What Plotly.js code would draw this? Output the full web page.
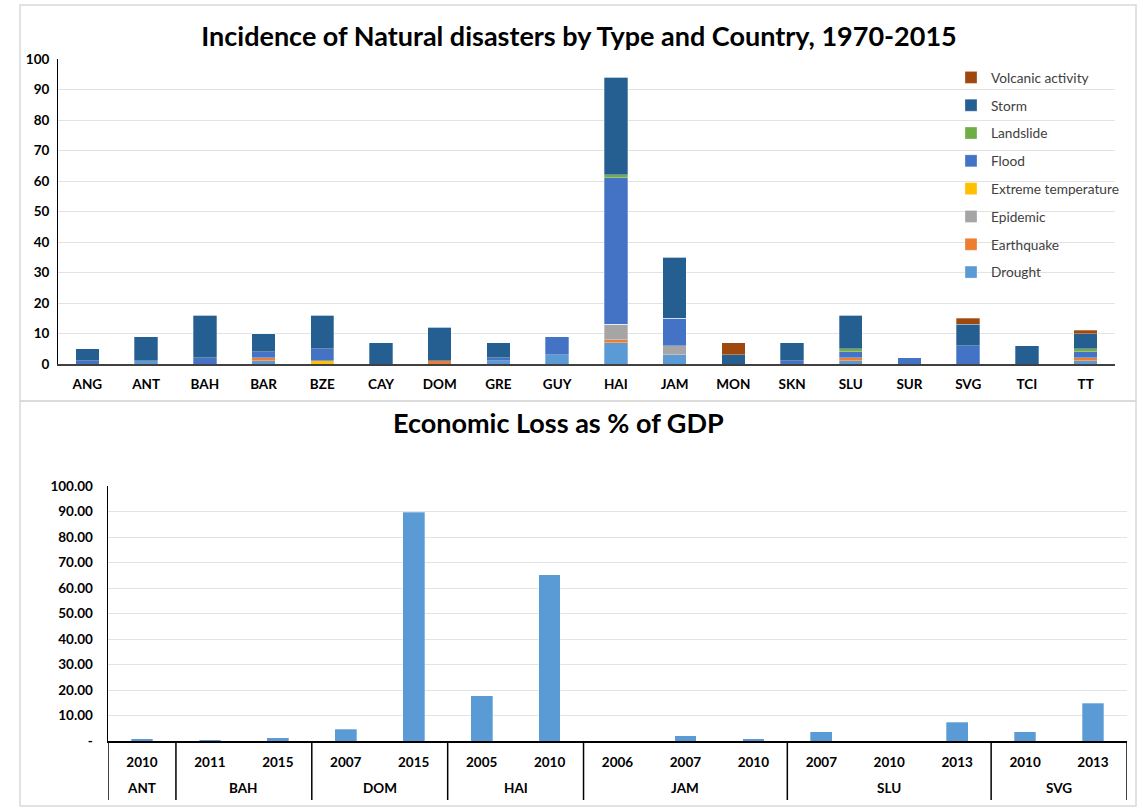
<!DOCTYPE html>
<html>
<head>
<meta charset="utf-8">
<script src="https://cdn.plot.ly/plotly-3.0.1.min.js"></script>
<style>
html,body{margin:0;padding:0;background:#fff;}
#chart{width:1143px;height:810px;}
</style>
</head>
<body>
<div id="chart"></div>
<script>
// ---------- Top chart data ----------
const countries = ["ANG","ANT","BAH","BAR","BZE","CAY","DOM","GRE","GUY","HAI","JAM","MON","SKN","SLU","SUR","SVG","TCI","TT"];
const drought     = [0,1,0,1,0,0,0,1,3,7,3,0,0,1,0,0,0,1];
const earthquake  = [0,0,0,1,0,0,1,0,0,1,0,0,0,1,0,0,0,1];
const epidemic    = [0,0,0,0,0,0,0,0,0,5,3,0,0,0,0,0,0,0];
const extremeTemp = [0,0,0,0,1,0,0,0,0,0,0,0,0,0,0,0,0,0];
const flood       = [1,0,2,2,4,0,0,1,6,48,9,0,1,2,2,6,0,2];
const landslide   = [0,0,0,0,0,0,0,0,0,1,0,0,0,1,0,0,0,1];
const storm       = [4,8,14,6,11,7,11,5,0,32,20,3,6,11,0,7,6,5];
const volcanic    = [0,0,0,0,0,0,0,0,0,0,0,4,0,0,0,2,0,1];
const disasterNames = ["Drought","Earthquake","Epidemic","Extreme temperature","Flood","Landslide","Storm","Volcanic activity"];
const disasterColors = ["#5B9BD5","#ED7D31","#A5A5A5","#FFC000","#4472C4","#70AD47","#255E91","#9E480E"];
const disasterSeries = [drought, earthquake, epidemic, extremeTemp, flood, landslide, storm, volcanic];
const topTicks = [0,10,20,30,40,50,60,70,80,90,100];

// ---------- Bottom chart data ----------
const lossCountries = ["ANT","BAH","BAH","DOM","DOM","HAI","HAI","JAM","JAM","JAM","SLU","SLU","SLU","SVG","SVG"];
const lossYears     = ["2010","2011","2015","2007","2015","2005","2010","2006","2007","2010","2007","2010","2013","2010","2013"];
const lossValues    = [0.9,0.5,1.2,4.6,89.8,17.8,65.2,0,2.1,0.8,3.7,0,7.3,3.7,14.8];
const lossTickVals  = [0,10,20,30,40,50,60,70,80,90,100];
const lossTickText  = ["-","10.00","20.00","30.00","40.00","50.00","60.00","70.00","80.00","90.00","100.00"];

const FONT = "Lato, 'Open Sans', sans-serif";
const W = 1143, H = 810;
const px = v => v / W;
const py = v => 1 - v / H;

const traces = disasterNames.map((name, i) => ({
  type: "bar",
  name: name,
  x: countries,
  y: disasterSeries[i],
  xaxis: "x",
  yaxis: "y",
  legendgroup: name,
  legendrank: 100 - i,
  width: 0.4,
  marker: {color: disasterColors[i], line: {color: "rgba(255,255,255,0.5)", width: 0.6}},
  hoverinfo: "x+y+name"
}));

// positions of the loss bars are their order in the data (category slots)
const lossIndex = lossValues.map((_, i) => i);
traces.push({
  type: "bar",
  name: "Economic Loss",
  x: lossIndex,
  y: lossValues,
  xaxis: "x2",
  yaxis: "y2",
  width: 0.32,
  showlegend: false,
  marker: {color: "#5B9BD5", line: {color: "rgba(255,255,255,0.5)", width: 0.6}}
});

// country groups (second label level) derived from the data
const groups = [];
lossCountries.forEach((c, i) => {
  const last = groups[groups.length - 1];
  if (last && last.name === c) last.end = i;
  else groups.push({name: c, start: i, end: i});
});

const borderColor = "#D9D9D9";
const tickF = {family: FONT, size: 13.5, color: "#000", weight: "bold"};

const groupAnnotations = groups.map(g => ({
  text: "<b>" + g.name + "</b>",
  xref: "x2", yref: "paper",
  x: (g.start + g.end) / 2, y: py(788),
  xanchor: "center", yanchor: "middle",
  showarrow: false,
  font: tickF
}));
const dividerPositions = [groups[0].start - 0.5].concat(groups.map(g => g.end + 0.5));
const dividerShapes = dividerPositions.map(d => ({
  type: "line", xref: "x2", yref: "paper",
  x0: d, x1: d, y0: py(741), y1: py(800),
  line: {color: "#000", width: 1.5}
}));

const layout = {
  width: W, height: H,
  margin: {l: 0, r: 0, t: 0, b: 0},
  paper_bgcolor: "#fff",
  plot_bgcolor: "rgba(0,0,0,0)",
  font: {family: FONT, color: "#000"},
  barmode: "stack",
  showlegend: true,
  title: {
    text: "<b>Incidence of Natural disasters by Type and Country, 1970-2015</b>",
    font: {family: FONT, size: 27, color: "#000"},
    x: px(579), xanchor: "center",
    y: py(37), yanchor: "middle"
  },
  legend: {
    x: px(951), xanchor: "left",
    y: py(62), yanchor: "top",
    bgcolor: "rgba(0,0,0,0)",
    traceorder: "grouped",
    tracegroupgap: 7,
    font: {family: FONT, size: 13.7, color: "#404040"},
    itemwidth: 30
  },
  xaxis: {
    domain: [px(58), px(1115)],
    anchor: "y",
    type: "category",
    showline: true, linecolor: "#404040", linewidth: 2,
    showgrid: false,
    ticks: "",
    ticklabelstandoff: 7,
    tickfont: tickF,
    fixedrange: true
  },
  yaxis: {
    domain: [1 - 364 / H, 1 - 59 / H],
    anchor: "x",
    range: [0, 100],
    tickvals: topTicks,
    showline: true, linecolor: "#000", linewidth: 1,
    showgrid: true, gridcolor: "#E3E3E3", gridwidth: 1,
    zeroline: false,
    ticks: "",
    ticklabelstandoff: 5,
    tickfont: tickF,
    fixedrange: true
  },
  xaxis2: {
    domain: [px(108), px(1127)],
    anchor: "y2",
    type: "linear",
    range: [-0.5, lossValues.length - 0.5],
    tickvals: lossIndex,
    ticktext: lossYears,
    showline: true, linecolor: "#000", linewidth: 2,
    showgrid: false, zeroline: false,
    ticks: "",
    ticklabelstandoff: 8,
    tickfont: tickF,
    fixedrange: true
  },
  yaxis2: {
    domain: [1 - 741 / H, 1 - 486 / H],
    anchor: "x2",
    range: [0, 100],
    tickvals: lossTickVals,
    ticktext: lossTickText,
    showline: true, linecolor: "#000", linewidth: 1.5,
    showgrid: true, gridcolor: "#E3E3E3", gridwidth: 1,
    zeroline: false,
    ticks: "",
    ticklabelstandoff: 11,
    tickfont: tickF,
    fixedrange: true
  },
  annotations: [{
    text: "<b>Economic Loss as % of GDP</b>",
    xref: "paper", yref: "paper",
    x: px(558), y: py(422), xanchor: "center", yanchor: "middle",
    showarrow: false,
    font: {family: FONT, size: 27, color: "#000"}
  }].concat(groupAnnotations),
  shapes: [
    {type: "rect", xref: "paper", yref: "paper", x0: px(20), x1: px(1136), y0: py(401), y1: py(5), line: {color: borderColor, width: 1.5}, layer: "below"},
    {type: "rect", xref: "paper", yref: "paper", x0: px(20), x1: px(1136), y0: py(806), y1: py(401), line: {color: borderColor, width: 1.5}, layer: "below"}
  ].concat(dividerShapes)
};

Plotly.newPlot("chart", traces, layout, {displayModeBar: false, staticPlot: true});
</script>
</body>
</html>
